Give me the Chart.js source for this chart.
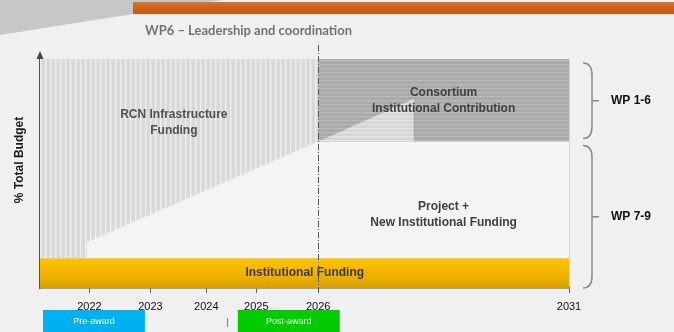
<!DOCTYPE html>
<html>
<head>
<meta charset="utf-8">
<script src="https://cdn.jsdelivr.net/npm/chart.js@4"></script>
<style>
  html, body { margin: 0; padding: 0; background: #f0f0f0; }
  #wrap { width: 674px; height: 332px; }
</style>
</head>
<body>
<div id="wrap"><canvas id="c" width="674" height="332"></canvas></div>
<script>
// schematic timeline: the year ticks are not evenly spaced, so each one gets its own position
const years   = ['2022', '2023', '2024', '2025', '2026', '2031'];
const yearPos = [0.99, 2.21, 3.33, 4.33, 5.57, 10.59];

// % of total budget
const instX = [0, 10.59];
const instY = [13, 13];
const rcnX  = [0, 5.57, 5.57, 0.94, 0.94, 0];
const rcnY  = [100, 100, 64, 20, 13, 13];
const consX = [5.57, 10.59, 10.59, 5.57];
const consY = [100, 100, 64, 64];
const rampX = [5.57, 7.48, 7.48];
const rampY = [64, 82.5, 64];

const wpGroups = [
  { label: 'WP 1-6', from: 64, to: 100 },
  { label: 'WP 7-9', from: 0,  to: 64 },
];
const phases = [
  { label: 'Pre-award',  from: 0.06, to: 2.1, color: '#00b0f0' },
  { label: 'Post-award', from: 3.96, to: 6.0, color: '#00cc00' },
];

const FONT = "'Liberation Sans', Arial, sans-serif";
const pts = (xs, ys) => xs.map((x, i) => ({ x, y: ys[i] }));

function stripes(bg, line, w, h, vertical) {
  const c = document.createElement('canvas');
  c.width = w; c.height = h;
  const g = c.getContext('2d');
  g.fillStyle = bg; g.fillRect(0, 0, w, h);
  g.fillStyle = line;
  if (vertical) g.fillRect(0, 0, 1.4, h); else g.fillRect(0, 0, w, 1.2);
  return g.createPattern(c, 'repeat');
}

const ctx0 = document.getElementById('c').getContext('2d');
const rcnFill  = stripes('#d9d9d9', '#eeeeee', 5, 4, true);
const consFill = stripes('#a9a9a9', '#bababa', 4, 4, false);
const rampFill = stripes('#d6d6d6', '#e6e6e6', 4, 4, false);

function yellow(context) {
  const a = context.chart.chartArea;
  if (!a) return '#f5b800';
  const y = context.chart.scales.y;
  const g = context.chart.ctx.createLinearGradient(0, y.getPixelForValue(instY[0]), 0, a.bottom);
  g.addColorStop(0, '#ffc400');
  g.addColorStop(0.5, '#f3b400');
  g.addColorStop(1, '#d9a000');
  return g;
}

const regionLabels = [
  { lines: ['RCN Infrastructure', 'Funding'],                  x: 2.68, y: 75.5, color: '#505050' },
  { lines: ['Consortium', 'Institutional Contribution'],       x: 8.08, y: 85.2, color: '#404040' },
  { lines: ['Project +', 'New Institutional Funding'],         x: 8.08, y: 35.4, color: '#404040' },
  { lines: ['Institutional Funding'],                          x: 5.3,  y: 6.6,  color: '#363636' },
];

function brace(ctx, x0, yTop, yBot) {
  const x1 = x0 + 9, x2 = x0 + 16, ym = (yTop + yBot) / 2, r = 12;
  ctx.beginPath();
  ctx.moveTo(x0, yTop);
  ctx.quadraticCurveTo(x1, yTop, x1, yTop + r);
  ctx.lineTo(x1, yBot - r);
  ctx.quadraticCurveTo(x1, yBot, x0, yBot);
  ctx.moveTo(x1, ym);
  ctx.lineTo(x2, ym);
  ctx.stroke();
}

const deco = {
  id: 'deco',
  beforeDraw(chart) {
    const { ctx, chartArea: a } = chart;
    ctx.save();
    ctx.fillStyle = '#f0f0f0';
    ctx.fillRect(0, 0, chart.width, chart.height);
    // slide header decoration
    ctx.fillStyle = '#c7c7c7';
    ctx.beginPath(); ctx.moveTo(0, 0); ctx.lineTo(222, 0); ctx.lineTo(0, 35); ctx.closePath(); ctx.fill();
    const og = ctx.createLinearGradient(0, 2, 0, 14);
    og.addColorStop(0, '#da7428'); og.addColorStop(0.5, '#c8611b'); og.addColorStop(1, '#c05d1a');
    ctx.fillStyle = og;
    ctx.fillRect(133, 2, chart.width - 133, 12);
    ctx.fillStyle = '#e2e2e2';
    ctx.fillRect(133, 14, chart.width - 133, 1);
    ctx.fillStyle = '#737373';
    ctx.font = "bold 13px Lato, 'Open Sans', sans-serif";
    ctx.textBaseline = 'middle';
    ctx.fillText('WP6 – Leadership and coordination', 145, 31);
    // plot background
    ctx.fillStyle = '#f4f4f4';
    ctx.fillRect(a.left, a.top, a.width, a.height);
    ctx.strokeStyle = '#d6d6d6'; ctx.lineWidth = 1;
    ctx.beginPath();
    ctx.moveTo(a.left, a.top + 0.5); ctx.lineTo(a.right + 0.5, a.top + 0.5); ctx.lineTo(a.right + 0.5, a.bottom);
    ctx.stroke();
    ctx.restore();
  },
  afterDraw(chart) {
    const { ctx, chartArea: a, scales: { x, y } } = chart;
    ctx.save();
    // region labels
    ctx.textAlign = 'center'; ctx.textBaseline = 'middle';
    ctx.font = 'bold 12px ' + FONT;
    regionLabels.forEach(l => {
      ctx.fillStyle = l.color;
      const px = x.getPixelForValue(l.x), py = y.getPixelForValue(l.y);
      l.lines.forEach((t, i) => ctx.fillText(t, px, py + i * 15.5));
    });
    // 2026 divider
    const dx = Math.round(x.getPixelForValue(yearPos[4])) + 0.5;
    ctx.strokeStyle = '#555'; ctx.lineWidth = 1;
    ctx.setLineDash([6, 2, 1, 2]);
    ctx.beginPath(); ctx.moveTo(dx, 45); ctx.lineTo(dx, a.bottom + 6); ctx.stroke();
    ctx.setLineDash([]);
    // y axis arrow
    ctx.strokeStyle = '#555'; ctx.lineWidth = 1.5;
    ctx.beginPath(); ctx.moveTo(a.left, a.top); ctx.lineTo(a.left, a.top - 3); ctx.stroke();
    ctx.fillStyle = '#444';
    ctx.beginPath();
    ctx.moveTo(a.left, a.top - 8); ctx.lineTo(a.left - 3.5, a.top); ctx.lineTo(a.left + 3.5, a.top);
    ctx.closePath(); ctx.fill();
    // y title
    ctx.save();
    ctx.translate(20, 160); ctx.rotate(-Math.PI / 2);
    ctx.fillStyle = '#1a1a1a'; ctx.font = 'bold 12px ' + FONT;
    ctx.fillText('% Total Budget', 0, 0);
    ctx.restore();
    // work package braces
    ctx.strokeStyle = '#8a8a8a'; ctx.lineWidth = 1.5;
    ctx.textAlign = 'left';
    ctx.font = 'bold 12px ' + FONT;
    wpGroups.forEach(g => {
      const yTop = y.getPixelForValue(g.to) + 4, yBot = y.getPixelForValue(g.from) - (g.from ? 3 : 0);
      brace(ctx, a.right + 14, yTop, yBot);
      ctx.fillStyle = '#111';
      ctx.fillText(g.label, a.right + 42, (yTop + yBot) / 2);
    });
    // award phases
    ctx.textAlign = 'center';
    ctx.font = '9px ' + FONT;
    phases.forEach(p => {
      const x0 = x.getPixelForValue(p.from), x1 = x.getPixelForValue(p.to);
      ctx.fillStyle = p.color;
      ctx.fillRect(x0, 310, x1 - x0, 22);
      ctx.fillStyle = '#fff';
      ctx.fillText(p.label, (x0 + x1) / 2, 322);
    });
    ctx.strokeStyle = '#e8742a'; ctx.lineWidth = 1.2;
    ctx.beginPath(); ctx.moveTo(227.5, 318); ctx.lineTo(227.5, 327); ctx.stroke();
    ctx.restore();
  }
};

const shape = (data, backgroundColor, fill = 'shape') => ({
  data, backgroundColor, fill, borderWidth: 0, pointRadius: 0, tension: 0,
});

new Chart(ctx0, {
  type: 'line',
  data: {
    datasets: [
      shape(pts(instX, instY), yellow, 'origin'),
      shape(pts(rampX, rampY), rampFill),
      shape(pts(consX, consY), consFill),
      shape(pts(rcnX, rcnY), rcnFill),
    ],
  },
  options: {
    responsive: false,
    animation: false,
    layout: { padding: { top: 59, right: 105, left: 0, bottom: 0 } },
    plugins: { legend: { display: false }, tooltip: { enabled: false }, title: { display: false } },
    scales: {
      x: {
        type: 'linear', min: 0, max: yearPos[yearPos.length - 1], z: 1,
        afterBuildTicks: s => { s.ticks = yearPos.map(v => ({ value: v })); },
        afterFit: s => { s.height = 44; },
        ticks: {
          autoSkip: false, maxRotation: 0, padding: 7,
          color: '#111', font: { family: FONT, size: 11 },
          callback: (v, i) => years[i],
        },
        grid: { drawOnChartArea: false, drawTicks: true, tickLength: 5, color: '#666' },
        border: { color: '#555', width: 1.5 },
      },
      y: {
        min: 0, max: 100, z: 1,
        afterFit: s => { s.width = 40; },
        ticks: { display: false },
        grid: { display: false },
        border: { color: '#555', width: 1.5 },
      },
    },
  },
  plugins: [deco],
});
</script>
</body>
</html>
